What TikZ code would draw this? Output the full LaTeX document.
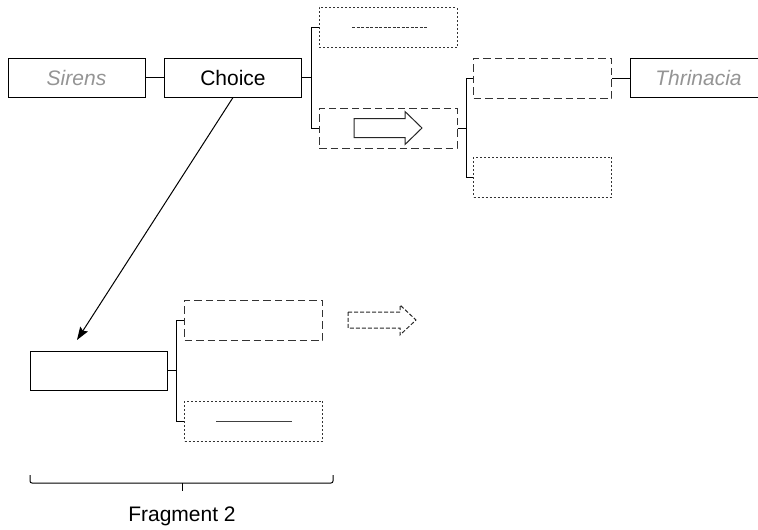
\documentclass[tikz,border=0pt]{standalone}
\usepackage{fontspec}
\setmainfont{Liberation Sans}
\usetikzlibrary{arrows.meta}
\tikzstyle{block} = [rectangle, draw, line width=1pt, minimum width=137pt, minimum height=39pt, inner sep=0pt, text centered, font=\fontsize{21}{25}\selectfont]
\tikzstyle{place} = [block, text=black!42, font=\fontsize{21}{25}\selectfont\itshape]
\tikzstyle{option} = [block, draw=black!80, dash pattern=on 7.5pt off 4pt, minimum width=138pt, minimum height=40pt]
\tikzstyle{maybe} = [block, draw=black!80, dash pattern=on 2pt off 2pt, minimum width=138pt, minimum height=40pt]
\tikzstyle{link} = [line width=1pt]
\tikzstyle{arrow} = [line width=1pt, -{Stealth[length=13pt,width=9pt,inset=2pt]}]
\tikzstyle{bigarrow} = [line width=1pt, draw=black!85]

\begin{document}
\begin{tikzpicture}[x=1pt, y=-1pt]
            \clip (0,0) rectangle (758,530);
            \node [place] at (76.5,77.5) (sirens) {Sirens};
            \node [block] at (233,77.5) (choice) {Choice};
            \node [maybe] at (388,27.5) (skip) {};
            \node [option] at (388,128) (go) {};
            \node [option] at (542.5,78) (next) {};
            \node [maybe] at (542.5,177) (other) {};
            \node [place] at (698.5,78) (thrinacia) {Thrinacia};
            \node [block] at (98.5,370.5) (fragment) {};
            \node [option] at (253.5,320) (later) {};
            \node [maybe] at (253.5,421) (stay) {};
            \coordinate (tip) at (77,340);
            \draw [link] (sirens) -- (choice);
            \draw [link] (choice.east) -- +(9,0) |- (skip.west);
            \draw [link] (choice.east) -- +(9,0) |- (go.west);
            \draw [link] (go.east) -- +(8.5,0) |- (next.west);
            \draw [link] (go.east) -- +(8.5,0) |- (other.west);
            \draw [link] (next) -- (thrinacia);
            \draw [link] (fragment.east) -- +(8.5,0) |- (later.west);
            \draw [link] (fragment.east) -- +(8.5,0) |- (stay.west);
            \draw [arrow] (choice.south) -- (tip);
            \draw [line width=1pt, black!80, dash pattern=on 3pt off 1.5pt] (352,27) -- (428,27);
            \draw [line width=1pt, black!75] (216,421) -- (292,421);
            \draw [bigarrow] (354,118.5) -- (405,118.5) -- (405,111.5) -- (422,128) -- (405,144.5) -- (405,137.5) -- (354,137.5) -- cycle;
            \draw [bigarrow, dash pattern=on 4pt off 2pt] (348,312) -- (400,312) -- (400,305) -- (416,320) -- (400,335) -- (400,328) -- (348,328) -- cycle;
            \draw [link, rounded corners=2pt] (30,475) -- (30,483) -- (333,483) -- (333,475);
            \draw [link] (182,483) -- (182,491) node [below=12pt, font=\fontsize{21}{25}\selectfont] (label) {Fragment 2};
            \end{tikzpicture}
\end{document}
